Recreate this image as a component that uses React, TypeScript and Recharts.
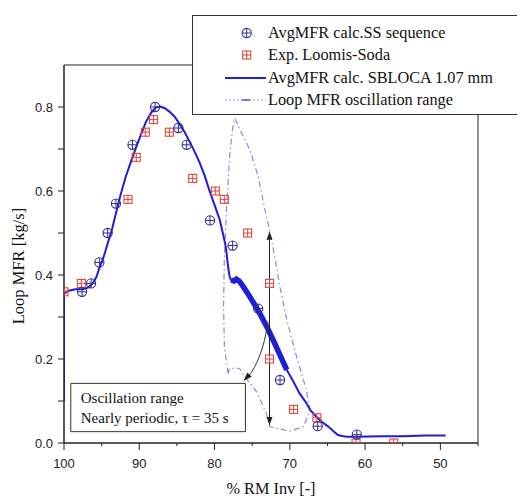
import React from 'react';
import {
  ComposedChart,
  Line,
  Scatter,
  XAxis,
  YAxis,
  ReferenceArea,
  Legend,
} from 'recharts';

// AvgMFR calc. SS sequence (steady-state points)
const ssPct = [97.6, 96.4, 95.3, 94.2, 93.1, 90.9, 87.9, 84.8, 83.7, 80.6, 77.6, 74.2, 71.3, 66.3, 61.1];
const ssMfr = [0.36, 0.38, 0.43, 0.5, 0.57, 0.71, 0.8, 0.75, 0.71, 0.53, 0.47, 0.32, 0.15, 0.04, 0.02];

// Exp. Loomis-Soda
const expPct = [100, 97.7, 91.5, 90.4, 89.2, 88.1, 86.0, 82.9, 79.9, 78.7, 75.6, 72.7, 72.7, 69.5, 66.4, 61.2, 56.2];
const expMfr = [0.36, 0.38, 0.58, 0.68, 0.74, 0.77, 0.74, 0.63, 0.6, 0.58, 0.5, 0.38, 0.2, 0.08, 0.06, 0.0, 0.0];

// AvgMFR calc. SBLOCA 1.07 mm (transient average)
const sbPct = [
  100, 100, 99.5, 98.5, 97.5, 96.8, 96.2, 95.7, 95.3, 94.7, 94.2, 93.6, 93.1, 92.5, 91.8, 91.1,
  90.4, 89.7, 89.1, 88.4, 87.8, 87.2, 86.6, 86.0, 85.3, 84.7, 84.0, 83.3, 82.6, 82.0, 81.3, 80.7,
  80.0, 79.3, 78.9, 78.5, 78.2, 78.0, 77.8, 77.4, 77.1, 76.7, 76.4, 76.1, 75.3, 74.2, 73.0, 72.0,
  71.2, 70.4, 69.5, 68.7, 67.8, 67.3, 66.5, 65.8, 64.9, 64.2, 63.6, 62.9, 62.4, 61.0, 58.0, 55.0,
  52.0, 49.3,
];
const sbMfr = [
  0.1, 0.355, 0.362, 0.366, 0.366, 0.37, 0.38, 0.395, 0.417, 0.445, 0.475, 0.51, 0.547, 0.59, 0.634, 0.67,
  0.705, 0.738, 0.765, 0.787, 0.799, 0.801, 0.797, 0.789, 0.777, 0.761, 0.741, 0.717, 0.692, 0.668, 0.636, 0.602,
  0.567, 0.531, 0.5, 0.467, 0.42, 0.396, 0.388, 0.386, 0.39, 0.385, 0.378, 0.37, 0.348, 0.315, 0.275, 0.237,
  0.205, 0.174, 0.145, 0.118, 0.095, 0.079, 0.063, 0.051, 0.039, 0.028, 0.019, 0.016, 0.015, 0.015, 0.016, 0.016,
  0.018, 0.018,
];

// Loop MFR oscillation range (upper / lower envelope, traced as one loop)
const rangePct = [
  78.2, 78.7, 78.8, 78.7, 78.4, 78.0, 77.6, 77.3, 76.6, 75.3, 74.2, 73.3, 72.7, 72.0, 71.4, 70.4,
  69.1, 67.8, 67.3, 68.2, 70.0, 72.7, 73.1, 74.4, 76.0, 76.7, 78.0, 78.2,
];
const rangeMfr = [
  0.165, 0.23, 0.33, 0.44, 0.56, 0.68, 0.75, 0.773, 0.745, 0.698, 0.634, 0.555, 0.507, 0.444, 0.38, 0.293,
  0.205, 0.126, 0.075, 0.039, 0.028, 0.039, 0.07, 0.122, 0.158, 0.178, 0.178, 0.165,
];

// Annotation: oscillation amplitude arrow and pointer to the note box
const ampPct = [72.7, 72.7];
const ampMfr = [0.503, 0.043];
const pointerPct = [72.9, 73.6, 74.9, 76.1];
const pointerMfr = [0.289, 0.229, 0.174, 0.149];

// Axes
const xTicks = [45, 50, 55, 60, 65, 70, 75, 80, 85, 90, 95, 100];
const yTicks = [0, 0.1, 0.2, 0.3, 0.4, 0.5, 0.6, 0.7, 0.8];
const yTickLabels = ['0.0', '', '0.2', '', '0.4', '', '0.6', '', '0.8'];

const legendItems = [
  'AvgMFR calc.SS sequence',
  'Exp. Loomis-Soda',
  'AvgMFR calc. SBLOCA 1.07 mm',
  'Loop MFR oscillation range',
];
const noteLines = ['Oscillation range', 'Nearly periodic, \u03c4 = 35 s'];
const xLabel = '% RM Inv [-]';
const yLabel = 'Loop MFR [kg/s]';

const zip = (xs: number[], ys: number[]) => xs.map((x, i) => ({ x, y: ys[i] }));
const ssData = zip(ssPct, ssMfr);
const expData = zip(expPct, expMfr);
const sbData = zip(sbPct, sbMfr);
const bandData = sbData.filter((d) => d.x <= 77.8 && d.x >= 70.4);
const rangeData = zip(rangePct, rangeMfr);
const ampData = zip(ampPct, ampMfr);
const pointerData = zip(pointerPct, pointerMfr);

const SERIF = '"Liberation Serif", "Times New Roman", serif';
const SANS = '"Liberation Sans", Arial, sans-serif';
const NAVY = '#30308a';
const RED = '#e2463c';
const BLUE = '#1e1ed8';
const LAVENDER = '#8a8ae0';
const INK = '#222';

function CircleCross(cx: number, cy: number, key?: string) {
  const r = 4.6;
  return (
    <g key={key}>
      <circle cx={cx} cy={cy} r={r} fill="none" stroke={NAVY} strokeWidth={1.1} />
      <line x1={cx - r} y1={cy} x2={cx + r} y2={cy} stroke={NAVY} strokeWidth={1} />
      <line x1={cx} y1={cy - r} x2={cx} y2={cy + r} stroke={NAVY} strokeWidth={1} />
    </g>
  );
}

function SquareCross(cx: number, cy: number, key?: string) {
  const h = 4;
  return (
    <g key={key}>
      <rect x={cx - h} y={cy - h} width={2 * h} height={2 * h} fill="none" stroke={RED} strokeWidth={1.1} />
      <line x1={cx - h} y1={cy} x2={cx + h} y2={cy} stroke={RED} strokeWidth={1} />
      <line x1={cx} y1={cy - h} x2={cx} y2={cy + h} stroke={RED} strokeWidth={1} />
    </g>
  );
}

function arrowHead(cx: number, cy: number, angleDeg: number, key: string) {
  return (
    <path
      key={key}
      d="M0,0 L-8,-3 L-8,3 Z"
      fill={INK}
      transform={`translate(${cx},${cy}) rotate(${angleDeg})`}
    />
  );
}

function renderXTick(props: any) {
  const { x, y, payload } = props;
  const v = payload.value as number;
  const major = v % 10 === 0;
  return (
    <g>
      <line x1={x} y1={y} x2={x} y2={y + (major ? 7 : 3)} stroke={INK} />
      {major && (
        <text x={x} y={y + 25} textAnchor="middle" fontFamily={SANS} fontSize={13} fill={INK}>
          {String(v)}
        </text>
      )}
    </g>
  );
}

function renderLegend() {
  const rows = [23, 45, 68, 90];
  return (
    <svg width={330} height={100} style={{ display: 'block' }}>
      <rect x={0.5} y={0.5} width={329} height={99} fill="#fff" stroke="#333" strokeWidth={1} />
      {CircleCross(54.7, rows[0] - 5)}
      {SquareCross(54.7, rows[1] - 5)}
      <line x1={33} y1={rows[2] - 5} x2={74} y2={rows[2] - 5} stroke={BLUE} strokeWidth={2} />
      <line x1={33} y1={rows[3] - 5} x2={74} y2={rows[3] - 5} stroke={LAVENDER} strokeWidth={1.2} strokeDasharray="2 2" />
      <line x1={50} y1={rows[3] - 5} x2={58} y2={rows[3] - 5} stroke="#5050c0" strokeWidth={1.4} />
      {legendItems.map((t, i) => (
        <text key={t} x={76} y={rows[i]} fontFamily={SERIF} fontSize={16.3} fill="#111">
          {t}
        </text>
      ))}
    </svg>
  );
}

export default function App() {
  return (
    <ComposedChart
      width={517}
      height={493}
      margin={{ top: 57, right: 47, bottom: 0, left: 0 }}
      style={{ background: '#fff' }}
    >
      <XAxis
        type="number"
        dataKey="x"
        domain={[45, 100]}
        reversed
        allowDataOverflow
        ticks={xTicks}
        interval={0}
        height={58}
        tickSize={0}
        tickMargin={0}
        tickLine={false}
        axisLine={{ stroke: INK }}
        tick={renderXTick}
        label={{
          content: (p: any) => {
            const vb = p.viewBox;
            return (
              <text x={vb.x + vb.width / 2} y={vb.y + 51} textAnchor="middle" fontFamily={SERIF} fontSize={16.3} fill="#111">
                {xLabel}
              </text>
            );
          },
        }}
      />
      <YAxis
        type="number"
        domain={[0, 0.9]}
        allowDataOverflow
        ticks={yTicks}
        interval={0}
        width={56}
        tickSize={6}
        tickMargin={5}
        tickLine={{ stroke: INK }}
        axisLine={{ stroke: INK }}
        tick={{ fontSize: 13, fontFamily: SANS, fill: INK }}
        tickFormatter={(v: number) => yTickLabels[yTicks.indexOf(v)] ?? ''}
        label={{
          content: (p: any) => {
            const vb = p.viewBox;
            const cx = vb.x + 16;
            const cy = vb.y + vb.height / 2 + 12;
            return (
              <text x={cx} y={cy} transform={`rotate(-90, ${cx}, ${cy})`} textAnchor="middle" fontFamily={SERIF} fontSize={16.5} fill="#111">
                {yLabel}
              </text>
            );
          },
        }}
      />

      {/* plot frame */}
      <ReferenceArea x1={100} x2={45} y1={0} y2={0.9} fill="none" stroke={INK} strokeWidth={1} ifOverflow="visible" />

      {/* note box */}
      <ReferenceArea
        x1={99.1}
        x2={75.9}
        y1={0.027}
        y2={0.142}
        fill="#fff"
        fillOpacity={1}
        stroke="#333"
        strokeWidth={1}
        label={{
          content: (p: any) => {
            const vb = p.viewBox;
            return (
              <text fontFamily={SERIF} fontSize={15} fill="#111">
                <tspan x={vb.x + 10} y={vb.y + 20}>{noteLines[0]}</tspan>
                <tspan x={vb.x + 10} y={vb.y + 40}>{noteLines[1]}</tspan>
              </text>
            );
          },
        }}
      />

      <Line
        data={rangeData}
        dataKey="y"
        type="linear"
        stroke={LAVENDER}
        strokeWidth={1.2}
        strokeDasharray="6 3 1.5 3"
        dot={false}
        activeDot={false}
        isAnimationActive={false}
        legendType="none"
      />
      <Line
        data={sbData}
        dataKey="y"
        type="linear"
        stroke={BLUE}
        strokeWidth={2}
        dot={false}
        activeDot={false}
        isAnimationActive={false}
        legendType="none"
      />
      <Line
        data={bandData}
        dataKey="y"
        type="linear"
        stroke={BLUE}
        strokeWidth={5.5}
        dot={false}
        activeDot={false}
        isAnimationActive={false}
        legendType="none"
      />
      <Line
        data={ampData}
        dataKey="y"
        type="linear"
        stroke={INK}
        strokeWidth={1}
        dot={(p: any) => arrowHead(p.cx, p.cy, p.index === 0 ? -90 : 90, `amp-${p.index}`)}
        activeDot={false}
        isAnimationActive={false}
        legendType="none"
      />
      <Line
        data={pointerData}
        dataKey="y"
        type="natural"
        stroke="#333"
        strokeWidth={1}
        dot={(p: any) =>
          p.index === pointerData.length - 1 ? arrowHead(p.cx, p.cy, 134, `ptr-${p.index}`) : <g key={`ptr-${p.index}`} />
        }
        activeDot={false}
        isAnimationActive={false}
        legendType="none"
      />
      <Scatter
        data={expData}
        dataKey="y"
        shape={(p: any) => SquareCross(p.cx, p.cy)}
        isAnimationActive={false}
        legendType="none"
      />
      <Scatter
        data={ssData}
        dataKey="y"
        shape={(p: any) => CircleCross(p.cx, p.cy)}
        isAnimationActive={false}
        legendType="none"
      />

      <Legend
        layout="horizontal"
        verticalAlign="middle"
        align="center"
        content={renderLegend}
        wrapperStyle={{ position: 'absolute', top: 7, left: 184, width: 330, height: 100 }}
      />
    </ComposedChart>
  );
}
